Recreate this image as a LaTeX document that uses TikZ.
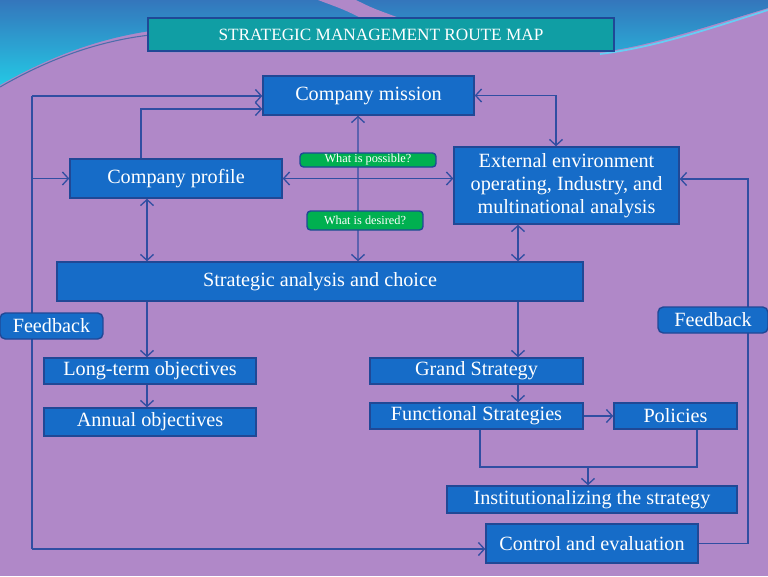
\documentclass[tikz,border=0pt]{standalone}
\usepackage{fontspec}
\setmainfont{Liberation Serif}
\usetikzlibrary{arrows.meta, positioning}

\definecolor{bgpurple}{RGB}{176,136,200}
\definecolor{boxblue}{RGB}{22,108,200}
\definecolor{edgeblue}{RGB}{32,72,150}
\definecolor{wireblue}{RGB}{48,78,162}
\definecolor{titleteal}{RGB}{16,158,164}
\definecolor{taggreen}{RGB}{0,176,80}
\definecolor{bandtop}{RGB}{52,118,188}
\definecolor{bandlow}{RGB}{36,200,228}

\begin{document}
\begin{tikzpicture}[
  x=0.02cm, y=-0.02cm,
  >={Straight Barb[length=1.2mm, width=2.6mm]},
  box/.style={rectangle, draw=edgeblue, line width=0.8pt, fill=boxblue, text=white, inner sep=0pt, align=center, font=\fontsize{11.5}{13}\selectfont},
  tag/.style={rectangle, rounded corners=2pt, draw=edgeblue, line width=0.8pt, fill=taggreen, text=white, inner sep=0pt, font=\fontsize{7}{8}\selectfont},
  fb/.style={box, rounded corners=3pt},
  wire/.style={draw=wireblue, line width=0.75pt}
]
\useasboundingbox (0,0) rectangle (768,576);

% background and top band
\fill[bgpurple] (0,0) rectangle (768,576);
\shade[top color=bandtop, bottom color=bandlow] (0,0) -- (768,0) -- (768,8) .. controls (690,32) and (640,48) .. (600,52) -- (160,52) -- (150,31) .. controls (90,40) and (40,62) .. (0,85) -- cycle;
\fill[bgpurple] (318,0) -- (356,0) .. controls (372,8) .. (405,20) -- (365,20) .. controls (345,10) .. (318,0) -- cycle;
\draw[cyan!60!white, line width=1pt] (600,54) .. controls (650,48) and (700,32) .. (768,10);
\draw[edgeblue!80, line width=0.6pt] (0,87) .. controls (40,64) and (90,42) .. (150,35);

% boxes
\node[box, fill=titleteal, minimum width=9.32cm, minimum height=0.66cm, font=\fontsize{9.8}{11}\selectfont] (title) at (381,34.5) {STRATEGIC MANAGEMENT ROUTE MAP};
\node[box, minimum width=4.22cm, minimum height=0.78cm] (mission) at (368.5,95.5) {Company mission};
\node[box, minimum width=4.24cm, minimum height=0.78cm] (profile) at (176,178.5) {Company profile};
\node[box, minimum width=4.50cm, minimum height=1.54cm] (ext) at (566.5,185.5) {External environment\\operating, Industry, and\\multinational analysis};
\node[box, minimum width=10.52cm, minimum height=0.78cm] (strat) at (320,281.5) {Strategic analysis and choice};
\node[box, minimum width=4.24cm, minimum height=0.52cm] (longterm) at (150,371) {Long-term objectives};
\node[box, minimum width=4.24cm, minimum height=0.56cm] (annual) at (150,422) {Annual objectives};
\node[box, minimum width=4.26cm, minimum height=0.52cm] (grand) at (476.5,371) {Grand Strategy};
\node[box, minimum width=4.26cm, minimum height=0.52cm] (func) at (476.5,416) {Functional Strategies};
\node[box, minimum width=2.46cm, minimum height=0.52cm] (policies) at (675.5,416) {Policies};
\node[box, minimum width=5.80cm, minimum height=0.54cm] (inst) at (592,499.5) {Institutionalizing the strategy};
\node[box, minimum width=4.24cm, minimum height=0.78cm] (control) at (592,543.5) {Control and evaluation};

\coordinate (ltop) at (32,96);
\coordinate (lbot) at (32,549);
\coordinate (rturn) at (748,179);
\coordinate (merge) at (588,467);

% connectors
\draw[wire] (ltop) -- (lbot);
\draw[wire, ->] (ltop) -- (ltop -| mission.west);
\draw[wire, ->] (ltop |- profile.west) -- (profile.west);
\draw[wire, ->] (lbot) -- (lbot -| control.west);
\draw[wire, ->] ([xshift=-0.7cm]profile.north) |- ([yshift=-0.27cm]mission.west);
\draw[wire, <->] ([xshift=-0.21cm]mission.south) -- ([xshift=0.76cm]strat.north);
\draw[wire, <->] (profile.east) -- (profile.east -| ext.west);
\draw[wire, <->] (mission.east) -| ([xshift=-0.21cm]ext.north);
\draw[wire, <->] ([xshift=-0.97cm]ext.south) -- ([xshift=-0.97cm]ext.south |- strat.north);
\draw[wire, <->] ([xshift=-0.58cm]profile.south) -- ([xshift=-0.58cm]profile.south |- strat.north);
\draw[wire, ->] ([xshift=-0.06cm]longterm.north |- strat.south) -- ([xshift=-0.06cm]longterm.north);
\draw[wire, ->] ([xshift=-0.06cm]longterm.south) -- ([xshift=-0.06cm]annual.north);
\draw[wire, ->] ([xshift=0.83cm]grand.north |- strat.south) -- ([xshift=0.83cm]grand.north);
\draw[wire, ->] ([xshift=0.83cm]grand.south) -- ([xshift=0.83cm]func.north);
\draw[wire, ->] (func) -- (policies);
\draw[wire] ([xshift=0.07cm]func.south) |- (merge) -| ([xshift=0.43cm]policies.south);
\draw[wire, ->] (merge) -- (merge |- inst.north);
\draw[wire, ->] (control.east) -| (rturn) -- (rturn -| ext.east);

% labels on top of the lines
\node[tag, minimum width=2.72cm, minimum height=0.28cm] (possible) at (368,160) {What is possible?};
\node[tag, minimum width=2.32cm, minimum height=0.38cm] (desired) at (365,220.5) {What is desired?};
\node[fb, minimum width=2.06cm, minimum height=0.52cm] (fbleft) at (51.5,326) {Feedback};
\node[fb, minimum width=2.20cm, minimum height=0.52cm] (fbright) at (713,320) {Feedback};
\end{tikzpicture}
\end{document}
